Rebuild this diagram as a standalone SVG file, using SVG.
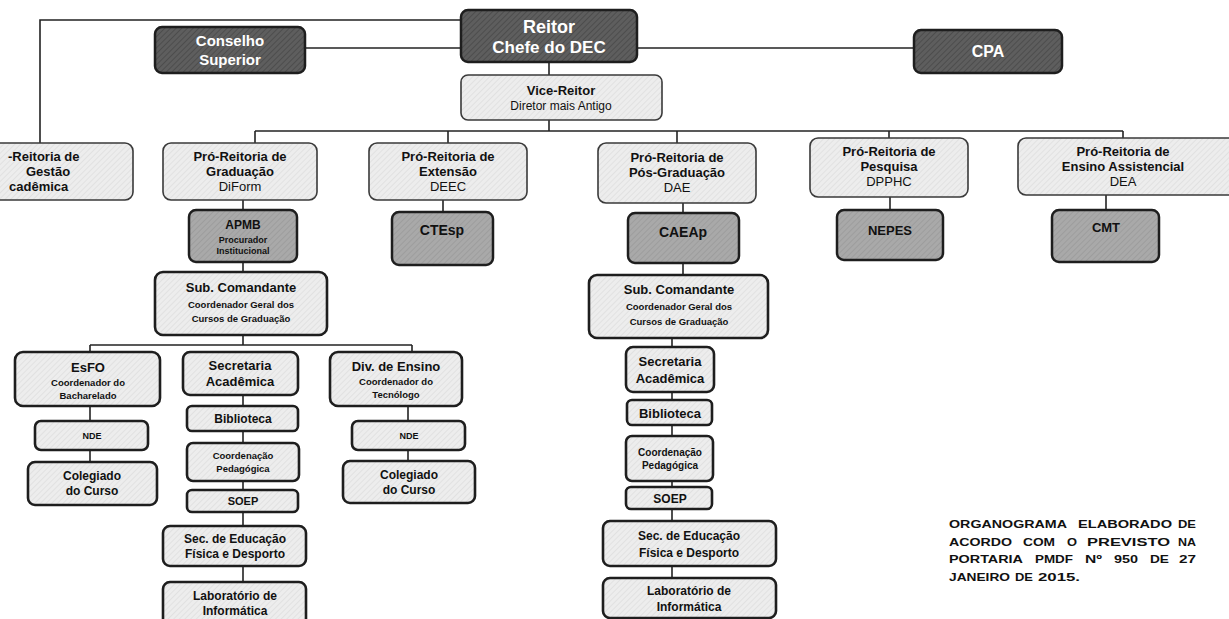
<svg xmlns="http://www.w3.org/2000/svg" width="1229" height="619" viewBox="0 0 1229 619">
<defs>
<pattern id="hDark" width="4" height="4" patternUnits="userSpaceOnUse" patternTransform="rotate(45)">
<rect width="4" height="4" fill="#5e5e5e"/><line x1="0" y1="0" x2="0" y2="4" stroke="#474747" stroke-width="1.5"/>
</pattern>
<pattern id="hMid" width="4" height="4" patternUnits="userSpaceOnUse" patternTransform="rotate(45)">
<rect width="4" height="4" fill="#a9a9a9"/><line x1="0" y1="0" x2="0" y2="4" stroke="#959595" stroke-width="1.2"/>
</pattern>
<pattern id="hLight" width="4" height="4" patternUnits="userSpaceOnUse" patternTransform="rotate(45)">
<rect width="4" height="4" fill="#ededed"/><line x1="0" y1="0" x2="0" y2="4" stroke="#d6d6d6" stroke-width="1"/>
</pattern>
<style>
.dark{fill:url(#hDark);stroke:#1e1e1e;stroke-width:2.5}
.mid{fill:url(#hMid);stroke:#1e1e1e;stroke-width:2.5}
.light{fill:url(#hLight);stroke:#3a3a3a;stroke-width:1.6}
.lightB{fill:url(#hLight);stroke:#1e1e1e;stroke-width:2.6}
text{font-family:"Liberation Sans",Arial,sans-serif;font-weight:bold;fill:#111;text-anchor:middle}
.w{fill:#fff}
.n{font-weight:normal}
.conn line,.conn polyline{stroke:#222;stroke-width:1.6;fill:none}
.note{text-anchor:start;font-size:11.5px}
</style>
</defs>

<g class="conn">
<polyline points="461,20 40,20 40,143"/>
<line x1="305" y1="48" x2="461" y2="48"/>
<line x1="637" y1="48" x2="914" y2="48"/>
<line x1="549" y1="62" x2="549" y2="75"/>
<line x1="549" y1="120" x2="549" y2="131"/>
<line x1="255" y1="131" x2="1123" y2="131"/>
<line x1="255" y1="131" x2="255" y2="143"/>
<line x1="448" y1="131" x2="448" y2="143"/>
<line x1="677" y1="131" x2="677" y2="143"/>
<line x1="889" y1="131" x2="889" y2="138"/>
<line x1="1123" y1="131" x2="1123" y2="138"/>
<line x1="243" y1="200" x2="243" y2="210"/>
<line x1="243" y1="262" x2="243" y2="272"/>
<line x1="443" y1="200" x2="443" y2="212"/>
<line x1="683" y1="203" x2="683" y2="213"/>
<line x1="890" y1="197" x2="890" y2="210"/>
<line x1="1106" y1="195" x2="1106" y2="210"/>
<line x1="243" y1="335" x2="243" y2="345"/>
<line x1="90" y1="345" x2="412" y2="345"/>
<line x1="90" y1="345" x2="90" y2="352"/>
<line x1="412" y1="345" x2="412" y2="352"/>
<line x1="90" y1="406" x2="90" y2="421"/>
<line x1="90" y1="450" x2="90" y2="462"/>
<line x1="243" y1="395" x2="243" y2="406"/>
<line x1="243" y1="431" x2="243" y2="443"/>
<line x1="243" y1="481" x2="243" y2="490"/>
<line x1="243" y1="512" x2="243" y2="526"/>
<line x1="243" y1="566" x2="243" y2="582"/>
<line x1="408" y1="406" x2="408" y2="421"/>
<line x1="408" y1="450" x2="408" y2="461"/>
<line x1="683" y1="263" x2="683" y2="275"/>
<line x1="672" y1="338" x2="672" y2="347"/>
<line x1="672" y1="392" x2="672" y2="400"/>
<line x1="672" y1="425" x2="672" y2="436"/>
<line x1="672" y1="481" x2="672" y2="487"/>
<line x1="672" y1="509" x2="672" y2="521"/>
<line x1="672" y1="566" x2="672" y2="578"/>
</g>

<g id="reitor"><rect class="dark" x="461" y="10" width="176" height="52" rx="7"/>
<text class="w" x="549" y="33" font-size="18">Reitor</text><text class="w" x="549" y="53" font-size="17">Chefe do DEC</text></g>
<g id="conselho"><rect class="dark" x="155" y="27" width="150" height="46" rx="7"/>
<text class="w" x="230" y="46" font-size="15">Conselho</text><text class="w" x="230" y="65" font-size="15">Superior</text></g>
<g id="cpa"><rect class="dark" x="914" y="30" width="148" height="43" rx="7"/>
<text class="w" x="988" y="57" font-size="16">CPA</text></g>
<g id="vice"><rect class="light" x="461" y="75" width="201" height="45" rx="7"/>
<text x="561" y="95" font-size="13">Vice-Reitor</text><text class="n" x="561" y="110" font-size="12">Diretor mais Antigo</text></g>

<g id="pr-gestao"><rect class="light" x="-25" y="143" width="158" height="57" rx="8"/>
<text x="8" y="161" font-size="13" style="text-anchor:start">-Reitoria de</text>
<text x="26" y="176" font-size="13" style="text-anchor:start">Gestão</text>
<text x="9" y="191" font-size="13" style="text-anchor:start">cadêmica</text></g>
<g id="pr-graduacao"><rect class="light" x="163" y="143" width="154" height="57" rx="8"/>
<text x="240" y="161" font-size="13">Pró-Reitoria de</text><text x="240" y="176" font-size="13">Graduação</text><text class="n" x="240" y="191" font-size="13">DiForm</text></g>
<g id="pr-extensao"><rect class="light" x="369" y="143" width="158" height="57" rx="8"/>
<text x="448" y="161" font-size="13">Pró-Reitoria de</text><text x="448" y="176" font-size="13">Extensão</text><text class="n" x="448" y="191" font-size="13">DEEC</text></g>
<g id="pr-pos"><rect class="light" x="598" y="143" width="158" height="60" rx="8"/>
<text x="677" y="162" font-size="13">Pró-Reitoria de</text><text x="677" y="177" font-size="13">Pós-Graduação</text><text class="n" x="677" y="192" font-size="13">DAE</text></g>
<g id="pr-pesquisa"><rect class="light" x="810" y="138" width="158" height="59" rx="8"/>
<text x="889" y="156" font-size="13">Pró-Reitoria de</text><text x="889" y="171" font-size="13">Pesquisa</text><text class="n" x="889" y="186" font-size="13">DPPHC</text></g>
<g id="pr-ensino"><rect class="light" x="1018" y="138" width="220" height="57" rx="8"/>
<text x="1123" y="156" font-size="13">Pró-Reitoria de</text><text x="1123" y="171" font-size="13">Ensino Assistencial</text><text class="n" x="1123" y="186" font-size="13">DEA</text></g>

<g id="apmb"><rect class="mid" x="189" y="210" width="108" height="52" rx="7"/>
<text x="243" y="229" font-size="12">APMB</text><text x="243" y="243" font-size="9">Procurador</text><text x="243" y="254" font-size="9">Institucional</text></g>
<g id="ctesp"><rect class="mid" x="392" y="212" width="101" height="53" rx="7"/>
<text x="442" y="235" font-size="14">CTEsp</text></g>
<g id="caeap"><rect class="mid" x="628" y="213" width="111" height="50" rx="7"/>
<text x="683" y="237" font-size="14">CAEAp</text></g>
<g id="nepes"><rect class="mid" x="837" y="210" width="106" height="50" rx="7"/>
<text x="890" y="235" font-size="13">NEPES</text></g>
<g id="cmt"><rect class="mid" x="1052" y="210" width="107" height="52" rx="7"/>
<text x="1106" y="232" font-size="13">CMT</text></g>

<g id="sub-grad"><rect class="lightB" x="155" y="272" width="172" height="63" rx="8"/>
<text x="241" y="292" font-size="13">Sub. Comandante</text><text x="241" y="308" font-size="9.5">Coordenador Geral dos</text><text x="241" y="322" font-size="9.5">Cursos de Graduação</text></g>
<g id="esfo"><rect class="lightB" x="15" y="352" width="145" height="54" rx="8"/>
<text x="88" y="372" font-size="13">EsFO</text><text x="88" y="386" font-size="9.5">Coordenador do</text><text x="88" y="399" font-size="9.5">Bacharelado</text></g>
<g id="sec-grad"><rect class="lightB" x="183" y="352" width="115" height="43" rx="7"/>
<text x="240" y="370" font-size="13">Secretaria</text><text x="240" y="386" font-size="13">Acadêmica</text></g>
<g id="div-ensino"><rect class="lightB" x="330" y="352" width="132" height="54" rx="8"/>
<text x="396" y="371" font-size="13">Div. de Ensino</text><text x="396" y="385" font-size="9.5">Coordenador do</text><text x="396" y="398" font-size="9.5">Tecnólogo</text></g>
<g id="nde-left"><rect class="lightB" x="35" y="421" width="113" height="29" rx="6"/>
<text x="92" y="439" font-size="9">NDE</text></g>
<g id="colegiado-left"><rect class="lightB" x="28" y="462" width="129" height="43" rx="7"/>
<text x="92" y="480" font-size="12">Colegiado</text><text x="92" y="495" font-size="12">do Curso</text></g>
<g id="nde-right"><rect class="lightB" x="352" y="421" width="113" height="29" rx="6"/>
<text x="409" y="439" font-size="9">NDE</text></g>
<g id="colegiado-right"><rect class="lightB" x="343" y="461" width="132" height="42" rx="7"/>
<text x="409" y="479" font-size="12">Colegiado</text><text x="409" y="494" font-size="12">do Curso</text></g>
<g id="biblioteca-grad"><rect class="lightB" x="187" y="406" width="111" height="25" rx="5"/>
<text x="243" y="423" font-size="12">Biblioteca</text></g>
<g id="coord-grad"><rect class="lightB" x="187" y="443" width="112" height="38" rx="6"/>
<text x="243" y="459" font-size="9.5">Coordenação</text><text x="243" y="472" font-size="9.5">Pedagógica</text></g>
<g id="soep-grad"><rect class="lightB" x="187" y="490" width="111" height="22" rx="5"/>
<text x="243" y="505" font-size="11">SOEP</text></g>
<g id="secedu-grad"><rect class="lightB" x="163" y="526" width="143" height="40" rx="7"/>
<text x="235" y="543" font-size="12">Sec. de Educação</text><text x="235" y="558" font-size="12">Física e Desporto</text></g>
<g id="lab-grad"><rect class="lightB" x="163" y="582" width="143" height="44" rx="7"/>
<text x="235" y="600" font-size="12">Laboratório de</text><text x="235" y="615" font-size="12">Informática</text></g>

<g id="sub-pos"><rect class="lightB" x="589" y="275" width="179" height="63" rx="8"/>
<text x="679" y="294" font-size="13">Sub. Comandante</text><text x="679" y="310" font-size="9.5">Coordenador Geral dos</text><text x="679" y="325" font-size="9.5">Cursos de Graduação</text></g>
<g id="sec-pos"><rect class="lightB" x="626" y="347" width="88" height="45" rx="7"/>
<text x="670" y="366" font-size="13">Secretaria</text><text x="670" y="383" font-size="13">Acadêmica</text></g>
<g id="biblioteca-pos"><rect class="lightB" x="627" y="400" width="85" height="25" rx="5"/>
<text x="670" y="418" font-size="13">Biblioteca</text></g>
<g id="coord-pos"><rect class="lightB" x="626" y="436" width="87" height="45" rx="6"/>
<text x="670" y="456" font-size="10">Coordenação</text><text x="670" y="469" font-size="10">Pedagógica</text></g>
<g id="soep-pos"><rect class="lightB" x="626" y="487" width="86" height="22" rx="5"/>
<text x="670" y="503" font-size="12">SOEP</text></g>
<g id="secedu-pos"><rect class="lightB" x="603" y="521" width="173" height="45" rx="7"/>
<text x="689" y="540" font-size="12">Sec. de Educação</text><text x="689" y="557" font-size="12">Física e Desporto</text></g>
<g id="lab-pos"><rect class="lightB" x="603" y="578" width="173" height="40" rx="7"/>
<text x="689" y="595" font-size="12">Laboratório de</text><text x="689" y="611" font-size="12">Informática</text></g>

<g id="nota">
<text class="note" x="949" y="528" textLength="118" lengthAdjust="spacingAndGlyphs">ORGANOGRAMA</text>
<text class="note" x="1078" y="528" textLength="94" lengthAdjust="spacingAndGlyphs">ELABORADO</text>
<text class="note" x="1178" y="528" textLength="18" lengthAdjust="spacingAndGlyphs">DE</text>
<text class="note" x="949" y="546" textLength="63" lengthAdjust="spacingAndGlyphs">ACORDO</text>
<text class="note" x="1023" y="546" textLength="32" lengthAdjust="spacingAndGlyphs">COM</text>
<text class="note" x="1067" y="546" textLength="10" lengthAdjust="spacingAndGlyphs">O</text>
<text class="note" x="1087" y="546" textLength="83" lengthAdjust="spacingAndGlyphs">PREVISTO</text>
<text class="note" x="1178" y="546" textLength="18" lengthAdjust="spacingAndGlyphs">NA</text>
<text class="note" x="949" y="563" textLength="74" lengthAdjust="spacingAndGlyphs">PORTARIA</text>
<text class="note" x="1035" y="563" textLength="38" lengthAdjust="spacingAndGlyphs">PMDF</text>
<text class="note" x="1085" y="563" textLength="17" lengthAdjust="spacingAndGlyphs">Nº</text>
<text class="note" x="1114" y="563" textLength="24" lengthAdjust="spacingAndGlyphs">950</text>
<text class="note" x="1150" y="563" textLength="19" lengthAdjust="spacingAndGlyphs">DE</text>
<text class="note" x="1179" y="563" textLength="17" lengthAdjust="spacingAndGlyphs">27</text>
<text class="note" x="949" y="581" textLength="61" lengthAdjust="spacingAndGlyphs">JANEIRO</text>
<text class="note" x="1015" y="581" textLength="18" lengthAdjust="spacingAndGlyphs">DE</text>
<text class="note" x="1038" y="581" textLength="42" lengthAdjust="spacingAndGlyphs">2015.</text>
</g>
</svg>
